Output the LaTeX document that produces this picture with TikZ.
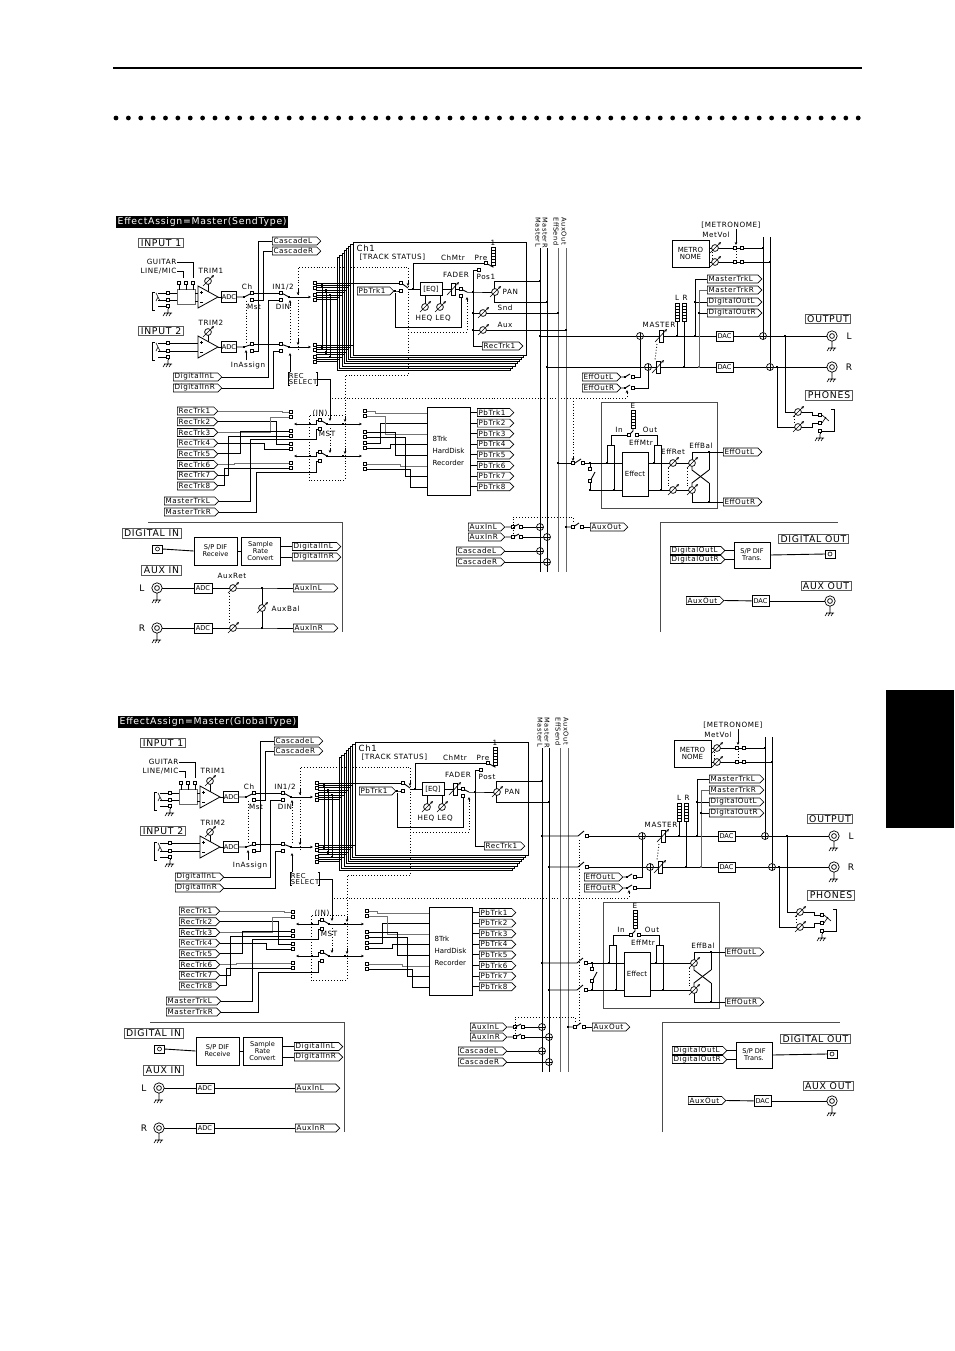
\documentclass[tikz,border=0pt]{standalone}
\usepackage{fontspec}
\newfontfamily\pix[LetterSpace=8]{DejaVu Sans}
\newfontfamily\pixn{DejaVu Sans}
\usetikzlibrary{shapes.symbols,arrows.meta}
\hyphenpenalty=10000
\exhyphenpenalty=10000

\tikzset{
  wire/.style={line width=0.9pt},
  ctl/.style={line width=0.9pt, dotted},
  arr/.style={-{Stealth[length=3pt,width=2.6pt]}},
  tag/.style={shape=signal, signal to=east, draw, fill=white, line width=0.7pt,
    inner xsep=1.2pt, inner ysep=0.4pt, minimum height=8pt, text width=#1,
    align=left, anchor=west, font=\pix\fontsize{7.2}{7.4}\selectfont},
  tag/.default=32pt,
  blk/.style={draw, fill=white, line width=0.8pt, inner sep=0.6pt, align=center,
    font=\pixn\fontsize{6.6}{7}\selectfont},
  panel/.style={draw=black!65, line width=0.9pt, inner xsep=2pt, inner ysep=1.2pt,
    font=\pix\fontsize{9.3}{9.3}\selectfont},
  lbl/.style={inner sep=0.4pt, font=\pix\fontsize{7.2}{7.4}\selectfont},
  term/.style={draw, fill=white, minimum size=2.6pt, inner sep=0pt, line width=0.5pt},
  jn/.style={fill, minimum size=2.8pt, inner sep=0pt},
  sum/.style={circle, draw, fill=white, minimum size=7pt, inner sep=0pt, line width=0.7pt,
    path picture={\draw[line width=0.5pt]
      (path picture bounding box.north) -- (path picture bounding box.south)
      (path picture bounding box.west) -- (path picture bounding box.east);}},
  knob/.pic={\draw[line width=0.7pt, fill=white] (0,0) circle (3.4);
    \draw[line width=0.6pt, arr] (-5,5) -- (6,-6);},
  fader/.pic={\draw[line width=0.7pt, fill=white] (-2,-6) rectangle (2,6);
    \draw[line width=0.6pt, arr] (-6,6) -- (6,-7);},
  meter/.pic={\draw[line width=0.6pt, fill=white] (-2,0) rectangle (2,18);
    \foreach \m in {3,6,...,15} \draw[line width=0.5pt] (-2,\m) -- (2,\m);},
  gnd/.pic={\draw[line width=0.6pt] (0,0) -- (0,4) (-4,4) -- (4,4)
    (-3,4) -- (-5,7) (0,4) -- (-2,7) (3,4) -- (1,7);},
  rca/.pic={\draw[line width=0.7pt, fill=white] (0,0) circle (5.2);
    \draw[line width=0.7pt] (0,0) circle (2.4) (0,5.2) -- (0,8);
    \pic at (0,8) {gnd};},
  coax/.pic={\draw[line width=0.7pt, fill=white] (-5,-4) rectangle (5,4);
    \draw[line width=0.6pt] (0,0) circle (2);},
  jackin/.pic={\draw[line width=1pt] (3,-9) -- (0,-9) -- (0,9) -- (3,9);
    \draw[line width=0.6pt] (4,-8) -- (8,0) (6,-4) -- (4,0);},
  amp/.pic={\draw[line width=0.8pt, fill=white] (0,-11) -- (20,0) -- (0,11) -- cycle;
    \draw[line width=0.5pt] (2,-5) -- (5,-5) (3.5,-6.5) -- (3.5,-3.5) (2,5) -- (5,5);},
}

% one mixer block, #1 = 1 (send type) or 2 (global type)
\newcommand{\mixpanel}[2]{%
  \node[anchor=north west, fill=black, text=white, inner xsep=1.5pt, inner ysep=1.2pt,
    font=\pix\fontsize{9.3}{9.3}\selectfont] (ttl) at (116,216) {#2};
  \node[panel] (in1) at (161,243) {INPUT 1};
  \node[panel] (in2) at (161,331) {INPUT 2};
  % channel stack
  \foreach \i in {7,6,...,0}
    \draw[wire, fill=white] ({353-2.2*\i},{242+2.2*\i}) rectangle ({526-2.2*\i},{355+2.2*\i});
  \foreach \k in {0,...,7} {
    \draw[wire] (316,{283+2.4*\k}) -- ({353-2.2*\k},{283+2.4*\k});
    \draw[wire] (316,{345+2.4*\k}) -- ({353-2.2*\k},{345+2.4*\k});
  }
  \foreach \k in {0,2,5,7} {
    \node[term] at (315,{283+2.4*\k}) {};
    \node[term] at (315,{345+2.4*\k}) {};
  }
  \foreach \k/\x in {1/322,3/326,5/330}
    \draw[wire] (\x,{283+2.4*\k}) node[jn] {} -- (\x,{345+2.4*\k}) node[jn] {};
  % input 1
  \pic at (152,301) {jackin};
  \draw[wire] (158,293) -- (177,293) (158,300) -- (177,300) (158,306) -- (168,306) -- (168,309);
  \pic at (168,309) {gnd};
  \foreach \y in {293,300,306} \node[term] at (168,\y) {};
  \node[draw=black!60, fill=white, line width=0.8pt, minimum width=18pt, minimum height=15pt] (sel) at (186,297) {};
  \foreach \x in {179,186,193} {\draw[wire] (\x,283) -- (\x,289.5); \node[term] at (\x,283) {};}
  \node[lbl, anchor=east] (gtr) at (177,262) {GUITAR};
  \node[lbl, anchor=east] (lmic) at (177,271) {LINE/MIC};
  \draw[wire] (gtr.east) -| (193,278);
  \draw[wire] (lmic.east) -| (183,278);
  \draw[wire] (195,293) -- (199,293) (195,301) -- (199,301);
  \pic at (198,297) {amp};
  \node[lbl] at (211,271) {TRIM1};
  \draw[wire] (208,284) -- (208,291.5);
  \pic at (208,281) {knob};
  \node[blk, minimum width=14pt, minimum height=11pt] (adc1) at (229,297) {ADC};
  \draw[wire] (218,297) -- (adc1.west);
  \node[term] (ch1t) at (252,293) {};
  \node[term] (ms1t) at (252,300) {};
  \draw[wire] (adc1.east) -- (244,297) node[jn] {} -- (250.5,293.8);
  \node[lbl] at (247,287) {Ch};
  \node[lbl] at (254,307) {Mst};
  % input 2
  \pic at (152,351) {jackin};
  \draw[wire] (158,343) -- (199,343) (158,351) -- (199,351) (158,357) -- (168,357) -- (168,360);
  \pic at (168,360) {gnd};
  \foreach \y in {343,351,357} \node[term] at (168,\y) {};
  \pic at (198,347) {amp};
  \node[lbl] at (211,323) {TRIM2};
  \draw[wire] (208,335) -- (208,341.5);
  \pic at (208,332) {knob};
  \node[blk, minimum width=14pt, minimum height=11pt] (adc2) at (229,347) {ADC};
  \draw[wire] (218,347) -- (adc2.west);
  \node[term] (ch2t) at (252,344) {};
  \node[term] (ms2t) at (252,351) {};
  \draw[wire] (adc2.east) -- (244,347) node[jn] {} -- (250.5,344.8);
  % cascade and IN1/2
  \node[tag=42pt] (cscl) at (272,241) {CascadeL};
  \node[tag=42pt] (cscr) at (272,251) {CascadeR};
  \draw[wire] (ms1t) -- (263,300) -- (263,251) -- (cscr.west);
  \draw[wire] (ms2t) -- (258,351) -- (258,241) -- (cscl.west);
  \node[term] (in1t) at (281,293) {};
  \node[term] (din1t) at (281,300) {};
  \node[term] (in2t) at (281,344) {};
  \node[term] (din2t) at (281,351) {};
  \draw[wire] (ch1t) -- (in1t);
  \draw[wire] (ch2t) -- (in2t);
  \node[lbl] at (283,287) {IN1/2};
  \node[lbl] at (283,307) {DIN};
  \draw[wire] (289,297) node[jn] {} -- (283,293.8);
  \draw[wire] (289,347) node[jn] {} -- (283,344.8);
  \draw[wire, arr] (289,297) -- (311,297);
  \draw[wire, arr] (289,347) -- (311,347);
  \node[tag=42pt] (dil) at (173,377) {DigitalInL};
  \node[tag=42pt] (dir) at (173,388) {DigitalInR};
  \draw[wire] (dil.east) -- (268,377) -- (268,300) -- (din1t);
  \draw[wire] (dir.east) -- (273,388) -- (273,351) -- (din2t);
  \draw[ctl] (246,301) -- (246,343);
  \draw[wire, arr] (246,360) -- (246,350);
  \node[lbl] at (248,366) {InAssign};
  % rec select and track status
  \node[lbl, align=left, font=\pix\fontsize{6.8}{6.8}\selectfont] (rsel) at (303,379) {REC\\SELECT};
  \draw[line width=0.6pt] ([xshift=2pt]rsel.north west) -- (rsel.north west) -- (rsel.south west) -- ([xshift=2pt]rsel.south west);
  \draw[line width=0.6pt] ([xshift=-2pt]rsel.north east) -- (rsel.north east) -- (rsel.south east) -- ([xshift=-2pt]rsel.south east);
  \draw[wire, arr] (290,372) -- (290,353);
  \draw[ctl] (290,343) -- (290,305);
  \draw[wire, arr] (290,305) -- (290,300);
  \draw[wire, arr] (rsel.east) -- (330,379) -- (330,421);
  \draw[ctl] (330,428) -- (330,450);
  \draw[wire, arr] (330,449) -- (330,453);
  \draw[ctl] (298,350) -- (298,267) -- (408,267) -- (408,375) -- (345,375) -- (345,480) -- (309,480) -- (309,415) -- (345,415);
  \draw[wire, arr] (298,289) -- (298,295);
  \draw[wire, arr] (298,339) -- (298,345);
  \draw[wire, arr] (408,280) -- (408,286);
  \draw[wire, arr] (345,416) -- (345,422);
  \draw[wire, arr] (345,448) -- (345,454);
  \draw[ctl] (332,398) -- (627,398) -- (627,393);
  \draw[wire, arr] (627,394) -- (627,390);
  % inside Ch1
  \node[anchor=north west, inner sep=0.5pt, font=\pix\fontsize{8.5}{8.5}\selectfont] (chn) at (356,244) {Ch1};
  \node[lbl, anchor=west] (tst) at (359,257) {[TRACK STATUS]};
  \node[lbl] at (453,258) {ChMtr};
  \node[lbl] at (481,258) {Pre};
  \node[lbl] at (493,243) {1};
  \pic at (493,247) {meter};
  \node[term] (pret) at (486,263) {};
  \draw[wire] (493,265) -- (493,267) -- (487.5,264);
  \node[tag=30pt] (pb1) at (357,291) {PbTrk1};
  \draw[wire] (353,283) -- (401,283) node[term] {};
  \draw[wire] (pb1.east) -- (395,291) node[jn] (pbj) {} -- (401,291) node[term] {};
  \node[blk, minimum width=22pt, minimum height=13pt, font=\pixn\fontsize{7}{7}\selectfont] (eq) at (431,289) {[EQ]};
  \draw[wire] (408,288) -- (402.5,284);
  \draw[wire] (408,289) -- (eq.west);
  \draw[wire] (413,289) node[jn] {} -- (413,263) -- (pret);
  \draw[wire] (425,303.6) -- (425,295.5) (440,303.6) -- (440,295.5);
  \pic at (425,307) {knob};
  \pic at (440,307) {knob};
  \node[lbl] at (424,318) {HEQ};
  \node[lbl] at (443,318) {LEQ};
  \draw[wire] (eq.east) -- (461,289) node[term] {};
  \pic at (453,289) {fader};
  \node[lbl] at (456,275) {FADER};
  \node[term] (fpost) at (461,296) {};
  \draw[wire] (467,292) -- (462.5,289.8);
  \draw[wire] (467,292) -- (473,292) node[jn] {} -- (491.6,292);
  \pic at (495,292) {knob};
  \node[lbl, anchor=west] at (502,292) {PAN};
  \draw[wire] (473,292) -- (473,270) -- (479,270) node[term] {};
  \node[lbl, anchor=west] at (476,277) {\ifnum#1=1 Pos1\else Post\fi};
  \draw[wire] (pbj) -- (395,327) -- (461,327) -- (fpost);
  \draw[ctl] (408,332) -- (467,332) -- (467,301);
  \draw[wire, arr] (467,302) -- (467,297);
  \node[tag=34pt] (rt1) at (482,346) {RecTrk1};
  \draw[wire] (473,292) -- (473,346) -- (rt1.west);
  \draw[wire] (540,281) node[jn] {} -- (494,281) -- (494,288.6);
  \draw[wire] (494,295.4) -- (494,302) -- (547,302) node[jn] {};
  % buses
  \foreach \x/\n/\c in {540/MasterL/black,547/MasterR/black,558/EffSend/black!60,566/AuxOut/black!60} {
    \draw[line width=0.9pt, draw=\c] (\x,248) -- (\x,572);
    \node[inner sep=0.3pt, rotate=-90, anchor=west, font=\pix\fontsize{6.6}{6.6}\selectfont] at (\x-2,217) {\n};
  }
  \ifnum#1=1
    \draw[wire] (473,313) node[jn] {} -- (479.6,313);
    \draw[wire] (486.4,313) -- (558,313) node[jn] {};
    \pic at (483,313) {knob};
    \node[lbl, anchor=west] at (497,308) {Snd};
    \draw[wire] (473,330) node[jn] {} -- (479.6,330);
    \draw[wire] (486.4,330) -- (566,330) node[jn] {};
    \pic at (483,330) {knob};
    \node[lbl, anchor=west] at (497,325) {Aux};
  \fi
  % master section
  \node[sum] (sumL) at (640,336) {};
  \node[sum] (sumR) at (648,367) {};
  \ifnum#1=1
    \draw[wire] (540,336) node[jn] {} -- (sumL);
    \draw[wire] (547,367) node[jn] {} -- (sumR);
  \else
    \draw[wire] (540,336) node[jn] {} -- (576,336) -- (582,331);
    \draw[wire] (585,336) node[term] {} -- (sumL);
    \draw[wire] (547,367) node[jn] {} -- (576,367) -- (582,362);
    \draw[wire] (585,367) node[term] {} -- (sumR);
    \draw[ctl] (577,340) -- (577,524);
  \fi
  \node[blk, minimum width=17pt, minimum height=10pt] (dacL) at (724.5,336) {DAC};
  \node[blk, minimum width=17pt, minimum height=10pt] (dacR) at (724.5,367) {DAC};
  \draw[wire] (sumL) -- (dacL);
  \draw[wire] (sumR) -- (dacR);
  \pic at (661,336) {fader};
  \pic at (658,367) {fader};
  \draw[ctl] (657,344) -- (655,360);
  \node[lbl] at (659,325) {MASTER};
  \pic at (677,303) {meter};
  \pic at (684,303) {meter};
  \node[lbl] at (677,298) {L};
  \node[lbl] at (685,298) {R};
  \draw[wire] (677,321) -- (677,336) node[jn] {};
  \draw[wire] (684,321) -- (684,367) node[jn] {};
  \node[tag=48pt] (mtl) at (707,279) {MasterTrkL};
  \node[tag=48pt] (mtr) at (707,290) {MasterTrkR};
  \node[tag=48pt] (dol) at (707,302) {DigitalOutL};
  \node[tag=48pt] (dor) at (707,313) {DigitalOutR};
  \draw[wire] (mtl.west) -- (695,279) -- (695,336) node[jn] {};
  \draw[wire] (dol.west) -- (695,302) node[jn] {};
  \draw[wire, black!60] (mtr.west) -- (699,290) -- (699,367) node[jn] {};
  \draw[wire] (dor.west) -- (699,313) node[jn] {};
  \node[tag=32pt] (eol) at (582,377) {EffOutL};
  \node[tag=32pt] (eor) at (582,388) {EffOutR};
  \draw[wire] (eol.east) -- (625,377) node[jn] {} -- (630,374);
  \draw[wire] (633,377) node[term] {} -- (640,377) -- (sumL);
  \draw[wire] (eor.east) -- (625,388) node[jn] {} -- (630,385);
  \draw[wire] (633,388) node[term] {} -- (648,388) -- (sumR);
  % metronome
  \node[blk, minimum width=37pt, minimum height=27pt, font=\pixn\fontsize{7}{7.5}\selectfont] (metro) at (690.5,253.5) {METRO\\NOME};
  \node[lbl] at (716,235) {MetVol};
  \node[lbl] at (731,225) {[METRONOME]};
  \node[sum] (osL) at (763,336) {};
  \node[sum] (osR) at (770,367) {};
  \draw[wire] (763,237) -- (osL);
  \draw[wire] (770,237) -- (osR);
  \draw[wire] (709,248) -- (711.6,248) (718.4,248) -- (763,248) node[jn] {};
  \draw[wire] (709,262) -- (711.6,262) (718.4,262) -- (770,262) node[jn] {};
  \foreach \y in {248,262} {\node[term] at (735,\y) {}; \node[term] at (742,\y) {};}
  \pic at (715,248) {knob};
  \pic at (715,262) {knob};
  \draw[ctl] (712,252) -- (712,258);
  \draw[wire, arr] (736,229) -- (736,245);
  \draw[ctl] (736,251) -- (736,259);
  \draw[wire] (dacL) -- (osL);
  \draw[wire] (dacR) -- (osR);
  \draw[wire] (osL) -- (826.8,336);
  \draw[wire] (osR) -- (826.8,367);
  \pic at (832,336) {rca};
  \pic at (832,367) {rca};
  \node[lbl, font=\pix\fontsize{9}{9}\selectfont] at (849,336) {L};
  \node[lbl, font=\pix\fontsize{9}{9}\selectfont] at (849,367) {R};
  \node[panel] (outp) at (828,319) {OUTPUT};
  \node[panel] (phn) at (829,395.5) {PHONES};
  % phones
  \draw[wire] (785,336) node[jn] {} -- (785,412) -- (794.6,412);
  \draw[wire] (777,367) node[jn] {} -- (777,427) -- (794.6,427);
  \draw[wire] (801.4,412) -- (812,412) -- (812,415) -- (820,415) node[term] {};
  \draw[wire] (801.4,427) -- (812,427) -- (812,423) -- (820,423) node[term] {};
  \pic at (798,412) {knob};
  \pic at (798,427) {knob};
  \draw[ctl] (794,416) -- (794,424);
  \draw[line width=0.6pt] (822,415) -- (829,421) (822,423) -- (826,417);
  \draw[line width=1pt] (831,409) -- (834,409) -- (834,431) -- (831,431);
  \draw[wire] (834,431) -- (820,431) node[term] {} -- (820,434);
  \pic at (820,434) {gnd};
  % effect block
  \draw[line width=0.9pt, black!70] (601,402) rectangle (717,508);
  \node[lbl] at (633,406) {E};
  \pic at (633,410) {meter};
  \node[term] (fxin) at (629,435) {};
  \node[term] (fxout) at (637,435) {};
  \draw[wire] (633,428) -- (633,431) -- (630,434);
  \node[lbl] at (619,430) {In};
  \node[lbl] at (650,430) {Out};
  \node[lbl] at (641,443) {EffMtr};
  \draw[wire] (fxin) -- (611,435) -- (611,445);
  \draw[wire] (607,463) node[jn] {} -- (607,445) -- (614,445) -- (614,490) node[jn] {};
  \draw[wire] (fxout) -- (657,435) -- (657,445);
  \draw[wire] (654,463) node[jn] {} -- (654,445) -- (661,445) -- (661,490) node[jn] {};
  \node[blk, minimum width=26pt, minimum height=44pt, font=\pixn\fontsize{7}{7}\selectfont] (fx) at (635,474) {Effect};
  \draw[wire] (590,463) -- (622,463);
  \draw[wire] (590,490) -- (622,490);
  \draw[wire] (590,463) node[jn] {} -- (590,469) node[term] {};
  \draw[wire] (590,481) node[term] {} -- (590,490) node[jn] {};
  \draw[wire] (591,479.5) -- (595,472);
  \ifnum#1=1
    \draw[wire] (558,463) node[jn] {} -- (573,463) node[term] {};
    \draw[wire] (575,463) -- (581,459);
    \draw[wire] (583,463) node[term] {} -- (590,463);
    \draw[ctl] (573,398) -- (573,457);
    \draw[wire, arr] (573,456) -- (573,461);
    \draw[wire] (648,463) -- (669.6,463) (676.4,463) -- (688.6,463);
    \draw[wire] (648,490) -- (669.6,490) (676.4,490) -- (688.6,490);
    \pic at (673,463) {knob};
    \pic at (673,490) {knob};
    \node[lbl] at (673,452) {EffRet};
    \draw[ctl] (668,468) -- (668,486);
  \else
    \draw[wire] (540,463) node[jn] {} -- (575,463) -- (581,458);
    \draw[wire] (584,463) node[term] {} -- (590,463);
    \draw[wire] (547,490) node[jn] {} -- (575,490) -- (581,485);
    \draw[wire] (584,490) node[term] {} -- (590,490);
    \draw[wire] (648,463) -- (688.6,463);
    \draw[wire] (648,490) -- (688.6,490);
  \fi
  \draw[wire] (692,459.6) -- (692,452) -- (709,452);
  \draw[wire] (692,466.4) -- (692,470) -- (709,483);
  \draw[wire] (692,486.6) -- (692,483) -- (709,470);
  \draw[wire] (692,493.4) -- (692,502) -- (709,502);
  \draw[wire] (709,452) -- (709,470) (709,483) -- (709,502);
  \pic at (692,463) {knob};
  \pic at (692,490) {knob};
  \node[lbl] at (701,446) {EffBal};
  \draw[ctl] (687,468) -- (687,486);
  \node[tag=32pt] (efl) at (723,452) {EffOutL};
  \node[tag=32pt] (efr) at (723,502) {EffOutR};
  \draw[wire] (709,452) node[jn] {} -- (efl.west);
  \draw[wire] (709,502) node[jn] {} -- (efr.west);
  % aux and cascade returns
  \node[tag=30pt] (ail) at (468,527) {AuxInL};
  \node[tag=30pt] (air) at (468,537) {AuxInR};
  \node[tag=42pt] (cl) at (456,551) {CascadeL};
  \node[tag=42pt] (cr) at (456,562) {CascadeR};
  \node[sum] (sal) at (540,527) {};
  \node[sum] (sar) at (547,537) {};
  \node[sum] (scl) at (540,551) {};
  \node[sum] (scr) at (547,562) {};
  \draw[wire] (ail.east) -- (513,527) node[term] {} -- (519,524);
  \draw[wire] (521,527) node[term] {} -- (sal);
  \draw[wire] (air.east) -- (513,537) node[term] {} -- (519,534);
  \draw[wire] (521,537) node[term] {} -- (sar);
  \draw[wire] (cl.east) -- (scl);
  \draw[wire] (cr.east) -- (scr);
  \draw[ctl] (513,534) -- (513,517) -- (573,517) -- (573,524);
  \node[tag=31pt] (aout) at (590,527) {AuxOut};
  \draw[wire] (566,527) node[jn] {} -- (573,527) node[term] {} -- (579,523);
  \draw[wire] (582,527) node[term] {} -- (aout.west);
  % recorder section
  \node[blk, minimum width=43pt, minimum height=88pt, align=left, font=\pixn\fontsize{7}{12}\selectfont] (hd) at (448.5,451) {8Trk\\HardDisk\\Recorder};
  \foreach \k in {1,...,8} {
    \node[tag=34pt] (rt\k) at (177,{411+10.7*(\k-1)}) {RecTrk\k};
    \node[tag=30pt] (pt\k) at (477,{412.5+10.6*(\k-1)}) {PbTrk\k};
    \draw[wire] (470,{412.5+10.6*(\k-1)}) -- (pt\k.west);
  }
  \node[tag=48pt] (mkl) at (164,501) {MasterTrkL};
  \node[tag=48pt] (mkr) at (164,512) {MasterTrkR};
  \foreach \k/\t/\x/\c in {1/412/282/black!55,2/444/276/black,3/417/270/black!55,4/449/264/black,
      5/431/240/black,6/463/234/black!55,7/436/228/black,8/468/224/black} {
    \draw[wire, draw=\c] (rt\k.east) -- (\x,{411+10.7*(\k-1)}) -- (\x,\t) -- (289,\t);
    \node[term] at (291,\t) {};
  }
  \foreach \k/\s/\x/\c in {1/411/375/black!55,2/443/380/black,3/416/385/black!55,4/448/390/black,
      5/432/395/black,6/464/400/black!55,7/437/405/black,8/469/410/black} {
    \draw[wire, draw=\c] (367,\s) -- (\x,\s) -- (\x,{413+10.6*(\k-1)}) -- (427,{413+10.6*(\k-1)});
    \node[term] at (365,\s) {};
  }
  \draw[wire] (mkl.east) -| (250,439) -- (316,439) |- (320,429);
  \draw[wire] (mkr.east) -| (256,472) -- (316,472) |- (320,461);
  \draw[wire, arr] (310,424) -- (294,424);
  \draw[wire, arr] (310,456) -- (294,456);
  \draw[wire] (310,424) node[jn] {} -- (316,424) -- (316,420) -- (320,420) node[term] {};
  \draw[wire] (310,456) node[jn] {} -- (316,456) -- (316,452) -- (320,452) node[term] {};
  \node[term] at (320,429) {};
  \node[term] at (320,461) {};
  \draw[wire] (327,424) -- (321.5,420.8);
  \draw[wire] (327,456) -- (321.5,452.8);
  \draw[wire] (327,424) node[jn] {} -- (343,424) node[jn] {};
  \draw[wire] (327,456) node[jn] {} -- (343,456) node[jn] {};
  \draw[wire, arr] (343,424) -- (362,424);
  \draw[wire, arr] (343,456) -- (362,456);
  \node[lbl] at (320,413) {(IN)};
  \node[lbl] at (327,434) {MST};
  % digital in / aux in
  \draw[line width=0.9pt, black!70] (148,522) -- (342,522) -- (342,632);
  \node[panel] (dgin) at (151.5,533.5) {DIGITAL IN};
  \node[blk, minimum width=43pt, minimum height=28pt] (spdr) at (215.5,551) {S/P DIF\\Receive};
  \node[blk, minimum width=39pt, minimum height=28pt] (srcv) at (260.5,551) {Sample\\Rate\\Convert};
  \node[tag=42pt] (dgl) at (292,546.5) {DigitalInL};
  \node[tag=42pt] (dgr) at (292,557) {DigitalInR};
  \draw[wire] (162.5,549) -- (spdr.west);
  \draw[wire] (spdr) -- (srcv);
  \draw[wire] (280,546.5) -- (dgl.west);
  \draw[wire] (280,557) -- (dgr.west);
  \pic at (157.5,549) {coax};
  \node[panel] (axin) at (161.5,570.5) {AUX IN};
  \node[lbl, font=\pix\fontsize{9}{9}\selectfont] at (142,588) {L};
  \node[lbl, font=\pix\fontsize{9}{9}\selectfont] at (142,628) {R};
  \node[blk, minimum width=18pt, minimum height=10pt] (adcl) at (203,588) {ADC};
  \node[blk, minimum width=18pt, minimum height=10pt] (adcr) at (203,628) {ADC};
  \node[tag=38pt] (axl) at (293,588) {AuxInL};
  \node[tag=38pt] (axr) at (293,628) {AuxInR};
  \draw[wire] (162.2,588) -- (adcl);
  \draw[wire] (162.2,628) -- (adcr);
  \pic at (157,588) {rca};
  \pic at (157,628) {rca};
  \ifnum#1=1
    \draw[wire] (adcl) -- (229.6,588) (236.4,588) -- (262,588) node[jn] {} -- (axl.west);
    \draw[wire] (adcr) -- (229.6,628) (236.4,628) -- (262,628) node[jn] {} -- (axr.west);
    \draw[wire] (262,588) -- (262,604.6) (262,611.4) -- (262,628);
    \pic at (233,588) {knob};
    \pic at (233,628) {knob};
    \pic at (262,608) {knob};
    \node[lbl] at (232,576) {AuxRet};
    \node[lbl, anchor=west] at (271,609) {AuxBal};
    \draw[ctl] (229,593) -- (229,623);
  \else
    \draw[wire] (adcl) -- (axl.west);
    \draw[wire] (adcr) -- (axr.west);
  \fi
  % digital out / aux out
  \draw[line width=0.9pt, black!70] (660,632) -- (660,522) -- (838,522);
  \node[panel] (dgout) at (813.5,539) {DIGITAL OUT};
  \node[tag=48pt] (dol2) at (670,550.5) {DigitalOutL};
  \node[tag=48pt] (dor2) at (670,559.5) {DigitalOutR};
  \node[blk, minimum width=36pt, minimum height=26pt] (spdt) at (752,555) {S/P DIF\\Trans.};
  \draw[wire] (dol2.east) -- (734,550.5);
  \draw[wire] (dor2.east) -- (734,559.5);
  \draw[wire] (spdt.east) -- (825,554);
  \pic at (830,554) {coax};
  \node[panel] (axout) at (826,586) {AUX OUT};
  \node[tag=31pt] (ao2) at (686,600.5) {AuxOut};
  \node[blk, minimum width=17pt, minimum height=11pt] (dac3) at (760.5,601) {DAC};
  \draw[wire] (ao2.east) -- (dac3);
  \draw[wire] (dac3) -- (824.8,601);
  \pic at (830,601) {rca};
}

\begin{document}
\begin{tikzpicture}[x=1pt, y=-1pt]
  \useasboundingbox (0,0) rectangle (954,1351);
  \draw[line width=2pt] (113,68) -- (862,68);
  \foreach \i in {0,...,60} \fill ({116+12.37*\i},118) circle (2.4);
  \fill (886,690) rectangle (954,828);
  \mixpanel{1}{EffectAssign=Master(SendType)}
  \begin{scope}[shift={(2,500)}]
    \mixpanel{2}{EffectAssign=Master(GlobalType)}
  \end{scope}
\end{tikzpicture}
\end{document}
